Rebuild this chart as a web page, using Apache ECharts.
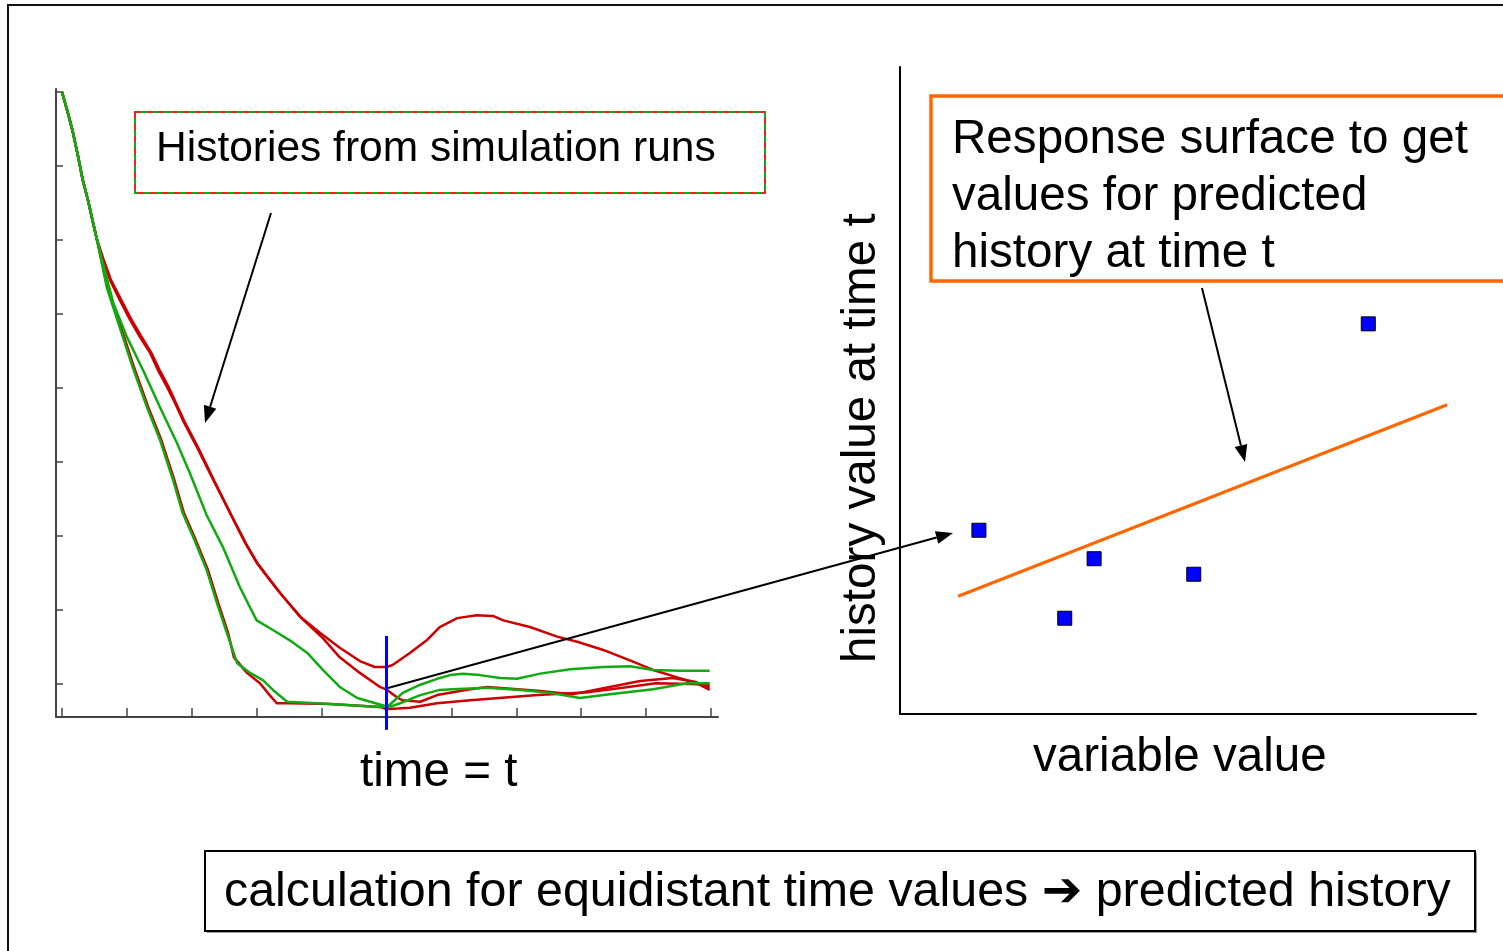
<!DOCTYPE html>
<html>
<head>
<meta charset="utf-8">
<title>Histories and response surface</title>
<script src="https://cdn.jsdelivr.net/npm/echarts@6/dist/echarts.min.js"></script>
<style>
  html, body { margin: 0; padding: 0; background: #fff; }
  #main { width: 1503px; height: 951px; }
</style>
</head>
<body>
<div id="main"></div>
<script>
// time axis ticks (left chart) and history value ticks
const timeTicks = [0, 1, 2, 3, 4, 5, 6, 7, 8, 9, 10];
const valueTicks = [0, 1, 2, 3, 4, 5, 6, 7, 8];
const tCut = 5;   // time = t

// all runs start from the same initial state
const startSeg = [[0, 8.0], [0.09, 7.72], [0.17, 7.45], [0.25, 7.12], [0.32, 6.81], [0.40, 6.54], [0.48, 6.23], [0.54, 6.00]];

const redRun1 = startSeg.concat([[0.63, 5.73], [0.74, 5.46], [0.89, 5.19], [1.05, 4.92], [1.20, 4.69], [1.36, 4.47], [1.48, 4.24], [1.62, 4.01], [1.74, 3.80], [1.86, 3.57], [2.08, 3.20], [2.33, 2.76], [2.59, 2.31], [2.82, 1.91], [3.00, 1.64], [3.20, 1.41], [3.36, 1.23], [3.67, 0.91], [3.98, 0.69], [4.28, 0.49], [4.59, 0.31], [4.82, 0.23], [5.01, 0.23], [5.10, 0.26], [5.36, 0.42], [5.62, 0.59], [5.82, 0.77], [6.09, 0.89], [6.39, 0.93], [6.64, 0.92], [6.80, 0.86], [7.21, 0.77], [7.63, 0.64], [7.94, 0.57], [8.34, 0.46], [8.75, 0.32], [9.11, 0.19], [9.48, 0.09], [9.78, 0.01], [9.98, -0.08]]);

const redRun2 = startSeg.concat([[0.64, 5.74], [0.75, 5.47], [0.90, 5.21], [1.06, 4.94], [1.22, 4.70], [1.38, 4.47], [1.50, 4.25], [1.64, 4.02], [1.76, 3.79], [1.88, 3.56], [2.10, 3.19], [2.35, 2.74], [2.61, 2.28], [2.84, 1.89], [3.02, 1.62], [3.22, 1.39], [3.38, 1.21], [3.69, 0.89], [4.02, 0.62], [4.28, 0.36], [4.59, 0.15], [4.90, -0.04], [5.01, -0.08], [5.16, -0.18], [5.25, -0.22], [5.52, -0.24], [5.78, -0.15], [6.29, -0.07], [6.55, -0.04], [7.33, -0.09], [7.86, -0.14], [8.38, -0.05], [8.91, 0.04], [9.41, 0.08], [9.75, 0.03], [9.98, -0.05]]);

const redRun3 = startSeg.concat([[0.70, 5.36], [0.91, 4.82], [1.11, 4.28], [1.33, 3.74], [1.53, 3.30], [1.73, 2.76], [1.88, 2.31], [2.04, 1.99], [2.25, 1.54], [2.41, 1.09], [2.56, 0.69], [2.65, 0.36], [2.85, 0.15], [3.05, 0.01], [3.20, -0.15], [3.31, -0.26], [3.51, -0.26], [4.13, -0.27], [4.90, -0.31], [4.99, -0.34], [5.36, -0.32], [5.78, -0.26], [6.29, -0.22], [7.33, -0.15], [8.12, -0.11], [8.64, -0.05], [9.15, 0.01], [9.68, 0.00], [9.98, -0.01]]);

const greenRun1 = startSeg.concat([[0.69, 5.36], [0.89, 4.82], [1.09, 4.28], [1.31, 3.74], [1.51, 3.30], [1.71, 2.76], [1.86, 2.31], [2.02, 1.99], [2.23, 1.54], [2.39, 1.09], [2.54, 0.69], [2.63, 0.46], [2.70, 0.28], [2.90, 0.15], [3.10, 0.05], [3.25, -0.08], [3.47, -0.24], [4.13, -0.27], [4.90, -0.31], [5.05, -0.31], [5.21, -0.26], [5.52, -0.15], [5.82, -0.08], [6.02, -0.07], [6.55, -0.05], [7.06, -0.08], [7.52, -0.12], [7.98, -0.19], [8.44, -0.14], [9.11, -0.07], [9.63, 0.01], [9.98, 0.01]]);

const greenRun2 = startSeg.concat([[0.66, 5.59], [0.79, 5.15], [1.00, 4.69], [1.25, 4.24], [1.51, 3.74], [1.77, 3.26], [1.97, 2.85], [2.23, 2.28], [2.48, 1.85], [2.74, 1.31], [2.90, 1.03], [3.00, 0.86], [3.25, 0.73], [3.51, 0.59], [3.78, 0.42], [4.02, 0.19], [4.28, -0.04], [4.55, -0.19], [4.75, -0.24], [4.99, -0.30], [5.05, -0.28], [5.25, -0.12], [5.52, -0.01], [5.78, 0.07], [5.98, 0.12], [6.18, 0.14], [6.44, 0.12], [6.75, 0.08], [7.01, 0.07], [7.37, 0.14], [7.83, 0.20], [8.34, 0.23], [8.75, 0.24], [9.11, 0.19], [9.52, 0.18], [9.98, 0.18]]);

// response surface: variable value vs history value at time t
const varValues = [1.37, 2.86, 3.37, 5.10, 8.13];
const histAtT = [2.84, 1.48, 2.40, 2.16, 6.03];
const fitVar = [1.01, 9.50];
const fitHist = [1.82, 4.78];

const FONT = '"Liberation Sans", Arial, "DejaVu Sans", sans-serif';
const RED = '#cc0000';
const GREEN = '#11aa11';

function arrow(x1, y1, x2, y2) {
  const dx = x2 - x1, dy = y2 - y1, L = Math.hypot(dx, dy);
  const ux = dx / L, uy = dy / L, hl = 17, hw = 6.5;
  const bx = x2 - ux * hl, by = y2 - uy * hl;
  return [
    { type: 'line', z: 100, shape: { x1: x1, y1: y1, x2: bx, y2: by }, style: { stroke: '#000', lineWidth: 2 } },
    { type: 'polygon', z: 100, shape: { points: [[x2, y2], [bx - uy * hw, by + ux * hw], [bx + uy * hw, by - ux * hw]] }, style: { fill: '#000' } }
  ];
}

function txt(text, x, y, size, extra) {
  return Object.assign({
    type: 'text', z: 100, x: x, y: y,
    style: { text: text, font: size + 'px ' + FONT, fill: '#000', textAlign: 'left', textVerticalAlign: 'middle' }
  }, extra || {});
}

function runLine(name, data, color) {
  return {
    name: name, type: 'line', xAxisIndex: 0, yAxisIndex: 0,
    data: data, symbol: 'none', smooth: false,
    lineStyle: { color: color, width: 2.5 }, itemStyle: { color: color }
  };
}

const chart = echarts.init(document.getElementById('main'));

const option = {
  animation: false,
  backgroundColor: '#fff',
  grid: [
    { left: 56, top: 89, width: 662, height: 628 },
    { left: 900, top: 67, width: 576, height: 647 }
  ],
  xAxis: [
    {
      gridIndex: 0, type: 'value', min: -0.092, max: 10.108,
      axisLine: { onZero: false, lineStyle: { color: '#444', width: 2 } },
      axisTick: { inside: true, length: 9, customValues: timeTicks, lineStyle: { color: '#444', width: 1.5 } },
      axisLabel: { show: false }, splitLine: { show: false }
    },
    {
      gridIndex: 1, type: 'value', min: 0, max: 10,
      axisLine: { onZero: false, lineStyle: { color: '#000', width: 2 } },
      axisTick: { show: false }, axisLabel: { show: false }, splitLine: { show: false }
    }
  ],
  yAxis: [
    {
      gridIndex: 0, type: 'value', min: -0.446, max: 8.04,
      axisLine: { onZero: false, lineStyle: { color: '#444', width: 2 } },
      axisTick: { inside: true, length: 7, customValues: valueTicks, lineStyle: { color: '#444', width: 1.5 } },
      axisLabel: { show: false }, splitLine: { show: false }
    },
    {
      gridIndex: 1, type: 'value', min: 0, max: 10,
      axisLine: { onZero: false, lineStyle: { color: '#000', width: 2 } },
      axisTick: { show: false }, axisLabel: { show: false }, splitLine: { show: false }
    }
  ],
  series: [
    runLine('run 1', redRun1, RED),
    runLine('run 2', redRun2, RED),
    runLine('run 3', redRun3, RED),
    runLine('run 4', greenRun1, GREEN),
    runLine('run 5', greenRun2, GREEN),
    {
      name: 'time = t', type: 'line', xAxisIndex: 0, yAxisIndex: 0, clip: false,
      data: [[tCut, 0.65], [tCut, -0.62]], symbol: 'none',
      lineStyle: { color: '#0000ff', width: 3 }, z: 5
    },
    {
      name: 'response surface', type: 'line', xAxisIndex: 1, yAxisIndex: 1,
      data: fitVar.map((v, i) => [v, fitHist[i]]), symbol: 'none',
      lineStyle: { color: '#ff6600', width: 3 }
    },
    {
      name: 'runs at t', type: 'scatter', xAxisIndex: 1, yAxisIndex: 1,
      data: varValues.map((v, i) => [v, histAtT[i]]),
      symbol: 'rect', symbolSize: 14,
      itemStyle: { color: '#0000ff', borderColor: '#000', borderWidth: 1, opacity: 1 }
    }
  ],
  graphic: [
    // outer slide frame
    { type: 'rect', z: 1, shape: { x: 8, y: 5, width: 1600, height: 1000 }, style: { fill: null, stroke: '#111', lineWidth: 2 } },
    // histories label box
    { type: 'rect', z: 90, shape: { x: 135, y: 112, width: 630, height: 81 }, style: { fill: '#fff', stroke: GREEN, lineWidth: 2 } },
    { type: 'rect', z: 91, shape: { x: 135, y: 112, width: 630, height: 81 }, style: { fill: null, stroke: '#ee2222', lineWidth: 2, lineDash: [6, 6] } },
    txt('Histories from simulation runs', 156, 149, 42.5),
    // response surface label box
    { type: 'rect', z: 90, shape: { x: 931, y: 96, width: 600, height: 185 }, style: { fill: '#fff', stroke: '#ff6600', lineWidth: 3.5 } },
    txt('Response surface to get', 952, 140, 47.6),
    txt('values for predicted', 952, 197, 47.6),
    txt('history at time t', 952, 254, 47.6),
    // axis titles
    txt('time = t', 360, 773, 47.6),
    txt('variable value', 1033, 758, 47.6),
    txt('history value at time t', 862, 663, 47.6, { rotation: Math.PI / 2 }),
    // bottom caption box
    { type: 'rect', z: 89, shape: { x: 207, y: 853, width: 1270, height: 80 }, style: { fill: '#999', stroke: null } },
    { type: 'rect', z: 90, shape: { x: 205, y: 851, width: 1270, height: 80 }, style: { fill: '#fff', stroke: '#000', lineWidth: 2 } },
    txt('calculation for equidistant time values \u2794 predicted history', 224, 893, 48.4)
  ].concat(
    arrow(271, 213, 205, 423),
    arrow(1202, 288, 1245, 462),
    arrow(388, 688, 953, 533)
  )
};

chart.setOption(option);
</script>
</body>
</html>
